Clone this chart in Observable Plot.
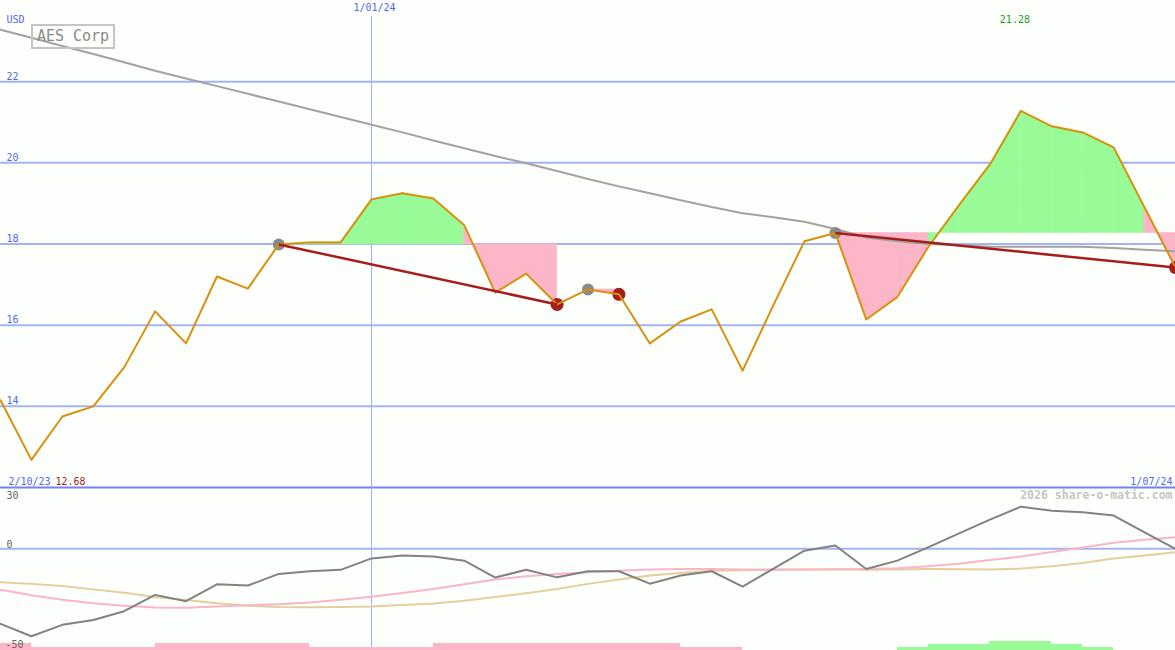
<!DOCTYPE html>
<html><head><meta charset="utf-8">
<script src="https://cdn.jsdelivr.net/npm/d3@7"></script>
<script src="https://cdn.jsdelivr.net/npm/@observablehq/plot@0.6"></script>
<style>
html,body{margin:0;padding:0;background:#fcfffc;}
#chart{position:relative;width:1175px;height:650px;overflow:hidden;background:#fcfffc;}
#top,#bottom{position:absolute;left:0;}
#top{top:0;}
#bottom{top:487px;}
#title{position:absolute;left:31px;top:24px;width:80px;height:21px;border:2px solid #c4c4c4;color:#8a8a8a;font:15px "DejaVu Sans Mono",monospace;line-height:21px;text-align:center;}
</style></head><body>
<div id="chart"><div id="top"></div><div id="bottom"></div><div id="title">AES Corp</div></div>
<script>
const dateStrings = ["2023-10-09","2023-10-16","2023-10-23","2023-10-30","2023-11-06","2023-11-13","2023-11-20","2023-11-27","2023-12-04","2023-12-11","2023-12-18","2023-12-25","2024-01-01","2024-01-08","2024-01-15","2024-01-22","2024-01-29","2024-02-05","2024-02-12","2024-02-19","2024-02-26","2024-03-04","2024-03-11","2024-03-18","2024-03-25","2024-04-01","2024-04-08","2024-04-15","2024-04-22","2024-04-29","2024-05-06","2024-05-13","2024-05-20","2024-05-27","2024-06-03","2024-06-10","2024-06-17","2024-06-24","2024-07-01"];
const price = [14.15,12.68,13.75,14.0,14.96,16.34,15.55,17.2,16.9,17.99,18.04,18.04,19.1,19.25,19.12,18.46,16.8,17.27,16.51,16.88,16.76,15.55,16.09,16.39,14.88,16.5,18.07,18.27,16.14,16.69,17.92,18.96,19.96,21.28,20.9,20.75,20.38,18.9,17.42];
const movingAvg = [23.28,23.08,22.88,22.68,22.48,22.27,22.08,21.89,21.70,21.51,21.32,21.13,20.94,20.75,20.55,20.36,20.17,19.99,19.80,19.60,19.42,19.25,19.08,18.91,18.76,18.66,18.55,18.37,18.16,18.07,18.00,17.97,17.93,17.93,17.93,17.93,17.90,17.86,17.82];
const oscMain = [-36.9,-43.0,-37.4,-35.0,-30.7,-22.7,-25.8,-17.5,-18.1,-12.4,-11.1,-10.4,-4.8,-3.4,-3.9,-5.9,-14.2,-10.4,-14.1,-11.1,-11.1,-17.2,-13.2,-11.1,-18.6,-9.8,-1.0,1.5,-10.0,-5.9,0.6,7.5,14.2,20.6,18.6,17.8,16.2,8.0,-0.1];
const oscPink = [-20.2,-22.9,-25.1,-26.8,-28.0,-28.9,-29.0,-28.4,-27.8,-27.3,-26.5,-25.1,-23.6,-21.8,-19.8,-17.5,-15.2,-13.6,-12.5,-11.6,-10.8,-10.3,-10.0,-10.0,-10.3,-10.4,-10.2,-10.1,-10.0,-9.6,-8.7,-7.4,-5.6,-3.9,-1.7,0.5,2.9,4.4,5.6];
const oscTan = [-16.5,-17.3,-18.4,-20.0,-21.6,-23.7,-25.2,-26.8,-28.0,-28.7,-28.8,-28.7,-28.4,-27.7,-26.9,-25.6,-23.8,-21.9,-19.8,-17.3,-15.2,-13.2,-12.0,-10.9,-10.6,-10.3,-10.2,-10.2,-10.4,-10.2,-10.0,-10.1,-10.3,-9.8,-8.7,-7.0,-4.9,-3.4,-1.7];
const histo = [-3.4,-1.5,-1.5,-1.5,-1.5,-3.4,-3.4,-3.4,-3.4,-3.4,-1.5,-1.5,-1.5,-1.5,-3.4,-3.4,-3.4,-3.4,-3.4,-3.4,-3.4,-3.4,-1.5,-1.5,0,0,0,0,0,1.5,3,3,4.4,4.4,3,1.5,0,0];
const buyIdx = [9,19,27];
const sellIdx = [18,20,38];
const trendPairs = [[9,18],[27,38]];
const fillPairs = [[9,18],[19,20],[27,38]];
const priceTicks = [14,16,18,20,22];
const oscTicks = [30,0,-50];
const dateLabels = ["2/10/23","1/01/24","1/07/24"];
const markerDate = "2024-01-01";
const unitLabel = "USD";
const watermark = "2026 share-o-matic.com";

const W = 1175;
const FONT = "DejaVu Sans Mono, monospace";
const dates = dateStrings.map(s => new Date(s + "T00:00:00Z"));
const marker = new Date(markerDate + "T00:00:00Z");
const rows = dates.map((d,i) => ({date:d, price:price[i], avg:movingAvg[i], osc:oscMain[i], pink:oscPink[i], tan:oscTan[i]}));

const segs = [];
fillPairs.forEach(([a,b],k) => {
  const ref = price[a];
  for (let j = a; j < b; j++) {
    const up = price[j+1] >= ref;
    for (const t of [j, j+1]) segs.push({date:dates[t], ref, price:price[t], seg:k + "-" + j, up});
  }
});
const trends = trendPairs.map(([a,b]) => ({x1:dates[a], y1:price[a], x2:dates[b], y2:price[b]}));
const buys = buyIdx.map(i => rows[i]);
const sells = sellIdx.map(i => rows[i]);
let maxIdx = 0, minIdx = 0;
price.forEach((v,i) => { if (v > price[maxIdx]) maxIdx = i; if (v < price[minIdx]) minIdx = i; });
const bars = histo.map((v,i) => ({x1:dates[i], x2:dates[i+1], v})).filter(d => d.v !== 0);

const blue = "#5666ee";
const grid = "#a6b3f3";
const vgrid = "#a0b0f8";
const green = "#98fb98";
const pink = "#fdb5c8";
const xScale = {type:"utc", domain:[dates[0], dates[dates.length-1]], axis:null};

const topPlot = Plot.plot({
  width: W, height: 489, marginTop: 0, marginLeft: 0, marginRight: 0, marginBottom: 2,
  style: {background:"transparent", fontFamily:FONT, fontSize:"10px", overflow:"visible"},
  x: xScale,
  y: {domain:[12,24], axis:null},
  marks: [
    Plot.ruleY(priceTicks, {stroke:grid, strokeWidth:2}),
    Plot.ruleX([marker], {stroke:vgrid, strokeWidth:1, insetTop:16, shapeRendering:"crispEdges"}),
    Plot.areaY(segs.filter(d => d.up), {x:"date", y1:"ref", y2:"price", z:"seg", fill:green, stroke:green, strokeWidth:0.6}),
    Plot.areaY(segs.filter(d => !d.up), {x:"date", y1:"ref", y2:"price", z:"seg", fill:pink, stroke:pink, strokeWidth:0.6}),
    Plot.line(rows, {x:"date", y:"avg", stroke:"#a2a2a2", strokeWidth:2}),
    Plot.dot(buys, {x:"date", y:"price", r:6, fill:"#8a8a8a"}),
    Plot.dot(sells, {x:"date", y:"price", r:6.5, fill:"#a51d1d"}),
    Plot.line(rows, {x:"date", y:"price", stroke:"#d8910c", strokeWidth:2}),
    Plot.link(trends, {x1:"x1", y1:"y1", x2:"x2", y2:"y2", stroke:"#a51d1d", strokeWidth:2.5}),
    Plot.ruleY([12], {stroke:"#7484ec", strokeWidth:2}),
    Plot.text(priceTicks, {y:d => d, text:d => String(d), frameAnchor:"left", textAnchor:"start", dx:6, lineAnchor:"bottom", dy:-2, fill:blue}),
    Plot.text([unitLabel], {text:d => d, frameAnchor:"top-left", textAnchor:"start", dx:6, lineAnchor:"top", dy:15, fill:blue}),
    Plot.text([marker], {x:d => d, text:() => dateLabels[1], frameAnchor:"top", lineAnchor:"top", dy:3, dx:3, fill:blue}),
    Plot.text([maxIdx], {x:i => dates[i], text:i => price[i].toFixed(2), frameAnchor:"top", lineAnchor:"top", dy:15, dx:-6, fill:"#1e9e1e"}),
    Plot.text([dateLabels[0]], {text:d => d, frameAnchor:"bottom-left", textAnchor:"start", dx:8, lineAnchor:"bottom", dy:-3, fill:blue}),
    Plot.text([minIdx], {text:i => price[i].toFixed(2), frameAnchor:"bottom-left", textAnchor:"start", dx:55, lineAnchor:"bottom", dy:-3, fill:"#a51d1d"}),
    Plot.text([dateLabels[2]], {text:d => d, frameAnchor:"bottom-right", textAnchor:"end", dx:-3, lineAnchor:"bottom", dy:-3, fill:blue})
  ]
});
document.getElementById("top").appendChild(topPlot);

const bottomPlot = Plot.plot({
  width: W, height: 163, margin: 0,
  style: {background:"transparent", fontFamily:FONT, fontSize:"10px", overflow:"visible"},
  x: xScale,
  y: {domain:[-50,30], axis:null},
  marks: [
    Plot.ruleY([0], {stroke:grid, strokeWidth:2}),
    Plot.ruleX([marker], {stroke:vgrid, strokeWidth:1, shapeRendering:"crispEdges"}),
    Plot.rect(bars.filter(d => d.v < 0), {x1:"x1", x2:"x2", y1:-50, y2:d => -50 + Math.abs(d.v), fill:pink, shapeRendering:"crispEdges"}),
    Plot.rect(bars.filter(d => d.v > 0), {x1:"x1", x2:"x2", y1:-50, y2:d => -50 + Math.abs(d.v), fill:green, shapeRendering:"crispEdges"}),
    Plot.line(rows, {x:"date", y:"tan", stroke:"#e3cf9b", strokeWidth:2}),
    Plot.line(rows, {x:"date", y:"pink", stroke:"#fbb5c8", strokeWidth:2}),
    Plot.line(rows, {x:"date", y:"osc", stroke:"#828282", strokeWidth:2}),
    Plot.text([oscTicks[0]], {y:d => d, text:d => String(d), frameAnchor:"left", textAnchor:"start", dx:6, lineAnchor:"top", dy:4, fill:"#666"}),
    Plot.text([oscTicks[1]], {y:d => d, text:d => String(d), frameAnchor:"left", textAnchor:"start", dx:6, lineAnchor:"bottom", dy:-1, fill:"#666"}),
    Plot.text([oscTicks[2]], {y:d => d, text:d => String(d), frameAnchor:"left", textAnchor:"start", dx:5, lineAnchor:"bottom", dy:-3, fill:"#666"}),
    Plot.text([watermark], {text:d => d, frameAnchor:"top-right", textAnchor:"end", dx:-3, dy:3, lineAnchor:"top", fontWeight:"bold", fontSize:11.5, fill:"#c6c6c6"})
  ]
});
document.getElementById("bottom").appendChild(bottomPlot);
</script>
</body></html>
